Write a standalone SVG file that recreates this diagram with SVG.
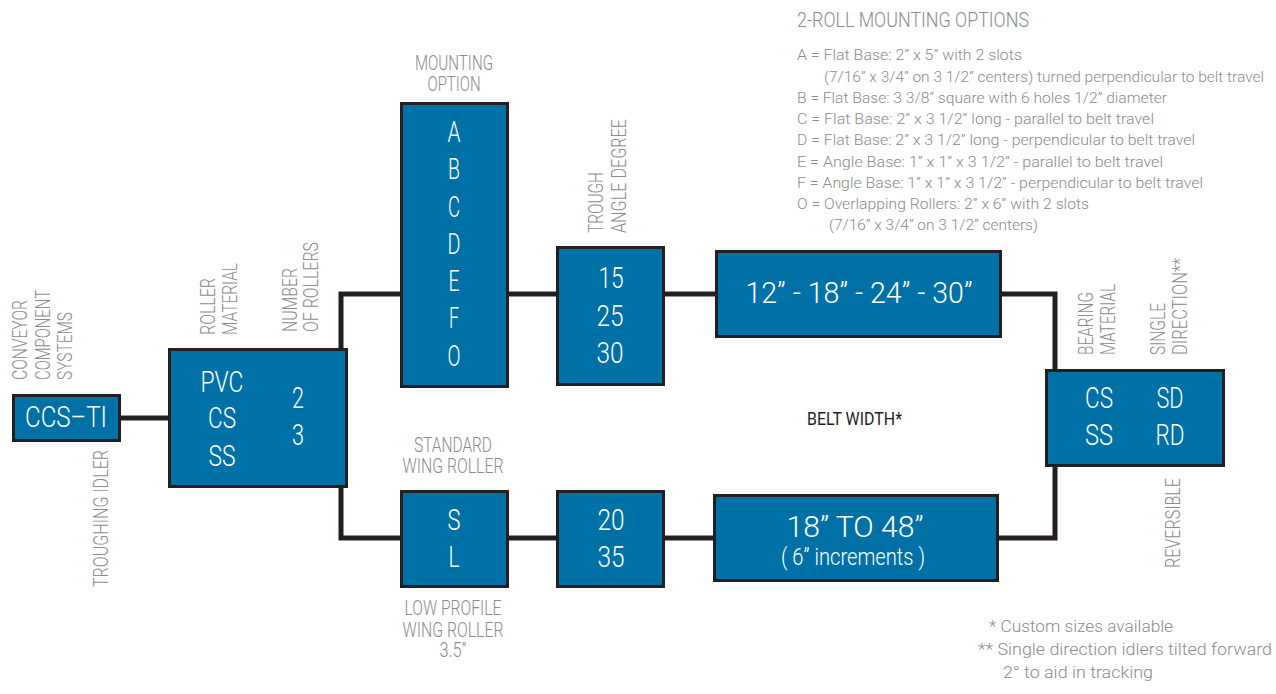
<svg xmlns="http://www.w3.org/2000/svg" width="1276" height="694" viewBox="0 0 1276 694">
<style>
text{font-family:"Liberation Sans Narrow","Roboto","Liberation Sans",sans-serif;font-weight:300}
.box{fill:#0071A7;stroke:#231F20;stroke-width:3}
.w{fill:#ffffff;font-size:30px;text-anchor:middle}
.g{fill:#8A8C8E;font-size:20px}
.gc{fill:#8A8C8E;font-size:20px;text-anchor:middle}
.opt{fill:#8A8C8E;font-size:15.5px}
.fn{fill:#8A8C8E;font-size:17px}
.dk{fill:#231F20;font-size:19px;font-weight:400}
.con{fill:none;stroke:#231F20;stroke-width:5;stroke-linejoin:miter}
</style>
<rect width="1276" height="694" fill="#ffffff"/>
<g id="connectors">
<path class="con" d="M121,418 H168"/>
<path class="con" d="M341,348 V294 H400"/>
<path class="con" d="M509,294 H556"/>
<path class="con" d="M665,294 H715"/>
<path class="con" d="M1002,294 H1055 V369"/>
<path class="con" d="M341,488 V538 H400"/>
<path class="con" d="M509,538 H556"/>
<path class="con" d="M665,538 H713"/>
<path class="con" d="M999,538 H1055 V467"/>
</g>
<g id="ccs">
<rect class="box" x="13.5" y="395.5" width="106" height="45"/>
<text class="w" x="66" y="427" textLength="82" lengthAdjust="spacingAndGlyphs">CCS–TI</text>
<text class="g" transform="translate(27,380) rotate(-90)" textLength="80" lengthAdjust="spacingAndGlyphs">CONVEYOR</text>
<text class="g" transform="translate(50,380) rotate(-90)" textLength="90" lengthAdjust="spacingAndGlyphs">COMPONENT</text>
<text class="g" transform="translate(72,380) rotate(-90)" textLength="68" lengthAdjust="spacingAndGlyphs">SYSTEMS</text>
<text class="g" transform="translate(108,587) rotate(-90)" textLength="137" lengthAdjust="spacingAndGlyphs">TROUGHING IDLER</text>
</g>
<g id="roller">
<rect class="box" x="169.5" y="349.5" width="177" height="137"/>
<text class="w" x="222" y="392" textLength="43" lengthAdjust="spacingAndGlyphs">PVC</text>
<text class="w" x="222" y="428" textLength="28" lengthAdjust="spacingAndGlyphs">CS</text>
<text class="w" x="222" y="466" textLength="27" lengthAdjust="spacingAndGlyphs">SS</text>
<text class="w" x="298" y="408" textLength="12" lengthAdjust="spacingAndGlyphs">2</text>
<text class="w" x="298" y="445" textLength="12" lengthAdjust="spacingAndGlyphs">3</text>
<text class="g" transform="translate(215,335) rotate(-90)" textLength="57" lengthAdjust="spacingAndGlyphs">ROLLER</text>
<text class="g" transform="translate(237,335) rotate(-90)" textLength="72" lengthAdjust="spacingAndGlyphs">MATERIAL</text>
<text class="g" transform="translate(297,332) rotate(-90)" textLength="64" lengthAdjust="spacingAndGlyphs">NUMBER</text>
<text class="g" transform="translate(318,332) rotate(-90)" textLength="90" lengthAdjust="spacingAndGlyphs">OF ROLLERS</text>
</g>
<g id="mounting">
<rect class="box" x="401.5" y="103.5" width="106" height="283"/>
<text class="w" x="454" y="142" textLength="13" lengthAdjust="spacingAndGlyphs">A</text>
<text class="w" x="454" y="179" textLength="12" lengthAdjust="spacingAndGlyphs">B</text>
<text class="w" x="454" y="217" textLength="12" lengthAdjust="spacingAndGlyphs">C</text>
<text class="w" x="454" y="254" textLength="13" lengthAdjust="spacingAndGlyphs">D</text>
<text class="w" x="454" y="291" textLength="11" lengthAdjust="spacingAndGlyphs">E</text>
<text class="w" x="454" y="328" textLength="10" lengthAdjust="spacingAndGlyphs">F</text>
<text class="w" x="454" y="366" textLength="13" lengthAdjust="spacingAndGlyphs">O</text>
<text class="gc" x="454" y="70" textLength="78" lengthAdjust="spacingAndGlyphs">MOUNTING</text>
<text class="gc" x="454" y="91" textLength="53" lengthAdjust="spacingAndGlyphs">OPTION</text>
</g>
<g id="trough">
<rect class="box" x="557.5" y="247.5" width="106" height="137"/>
<text class="w" x="611" y="288" textLength="25" lengthAdjust="spacingAndGlyphs">15</text>
<text class="w" x="610" y="326" textLength="27" lengthAdjust="spacingAndGlyphs">25</text>
<text class="w" x="610" y="363" textLength="27" lengthAdjust="spacingAndGlyphs">30</text>
<text class="g" transform="translate(603,233) rotate(-90)" textLength="61" lengthAdjust="spacingAndGlyphs">TROUGH</text>
<text class="g" transform="translate(626,233) rotate(-90)" textLength="114" lengthAdjust="spacingAndGlyphs">ANGLE DEGREE</text>
</g>
<g id="width-top">
<rect class="box" x="716.5" y="251.5" width="284" height="85"/>
<text class="w" x="859" y="303" textLength="227" lengthAdjust="spacingAndGlyphs">12” - 18” - 24” - 30”</text>
</g>
<g id="bearing">
<rect class="box" x="1046.5" y="370.5" width="177" height="95"/>
<text class="w" x="1099" y="408" textLength="28" lengthAdjust="spacingAndGlyphs">CS</text>
<text class="w" x="1099" y="445" textLength="28" lengthAdjust="spacingAndGlyphs">SS</text>
<text class="w" x="1170" y="408" textLength="27" lengthAdjust="spacingAndGlyphs">SD</text>
<text class="w" x="1170" y="445" textLength="29" lengthAdjust="spacingAndGlyphs">RD</text>
<text class="g" transform="translate(1093,355) rotate(-90)" textLength="63" lengthAdjust="spacingAndGlyphs">BEARING</text>
<text class="g" transform="translate(1115,355) rotate(-90)" textLength="71" lengthAdjust="spacingAndGlyphs">MATERIAL</text>
<text class="g" transform="translate(1165,355) rotate(-90)" textLength="52" lengthAdjust="spacingAndGlyphs">SINGLE</text>
<text class="g" transform="translate(1187,355) rotate(-90)" textLength="97" lengthAdjust="spacingAndGlyphs">DIRECTION**</text>
<text class="g" transform="translate(1180,568) rotate(-90)" textLength="90" lengthAdjust="spacingAndGlyphs">REVERSIBLE</text>
</g>
<g id="wing">
<rect class="box" x="401.5" y="491.5" width="106" height="95"/>
<text class="w" x="454" y="530" textLength="13" lengthAdjust="spacingAndGlyphs">S</text>
<text class="w" x="454" y="567" textLength="11" lengthAdjust="spacingAndGlyphs">L</text>
<text class="gc" x="453" y="452" textLength="78" lengthAdjust="spacingAndGlyphs">STANDARD</text>
<text class="gc" x="453" y="473" textLength="101" lengthAdjust="spacingAndGlyphs">WING ROLLER</text>
<text class="gc" x="453" y="615" textLength="97" lengthAdjust="spacingAndGlyphs">LOW PROFILE</text>
<text class="gc" x="453" y="637" textLength="101" lengthAdjust="spacingAndGlyphs">WING ROLLER</text>
<text class="gc" x="453" y="657" textLength="27" lengthAdjust="spacingAndGlyphs">3.5”</text>
</g>
<g id="angle-low">
<rect class="box" x="557.5" y="491.5" width="106" height="95"/>
<text class="w" x="611" y="530" textLength="27" lengthAdjust="spacingAndGlyphs">20</text>
<text class="w" x="611" y="567" textLength="27" lengthAdjust="spacingAndGlyphs">35</text>
</g>
<g id="width-low">
<rect class="box" x="714.5" y="495.5" width="283" height="85"/>
<text class="w" x="855" y="537" textLength="137" lengthAdjust="spacingAndGlyphs">18” TO  48”</text>
<text class="w" x="853" y="565" style="font-size:23px" textLength="144" lengthAdjust="spacingAndGlyphs">( 6” increments )</text>
</g>
<g id="belt-width-label">
<text class="dk" x="807" y="425" textLength="95" lengthAdjust="spacingAndGlyphs">BELT WIDTH*</text>
</g>
<g id="mounting-options">
<text class="g" x="797" y="27" style="font-size:21px" textLength="232" lengthAdjust="spacingAndGlyphs">2-ROLL MOUNTING OPTIONS</text>
<text class="opt" x="797" y="60" textLength="225" lengthAdjust="spacingAndGlyphs">A = Flat Base: 2” x 5” with 2 slots</text>
<text class="opt" x="824" y="81.5" textLength="440" lengthAdjust="spacingAndGlyphs">(7/16” x 3/4” on 3 1/2” centers) turned perpendicular to belt travel</text>
<text class="opt" x="797" y="102.5" textLength="370" lengthAdjust="spacingAndGlyphs">B = Flat Base: 3 3/8” square with 6 holes 1/2” diameter</text>
<text class="opt" x="797" y="124" textLength="357" lengthAdjust="spacingAndGlyphs">C = Flat Base: 2” x 3 1/2” long - parallel to belt travel</text>
<text class="opt" x="797" y="145" textLength="398" lengthAdjust="spacingAndGlyphs">D = Flat Base: 2” x 3 1/2” long - perpendicular to belt travel</text>
<text class="opt" x="797" y="166.5" textLength="366" lengthAdjust="spacingAndGlyphs">E = Angle Base: 1” x 1” x 3 1/2” - parallel to belt travel</text>
<text class="opt" x="797" y="188" textLength="406" lengthAdjust="spacingAndGlyphs">F = Angle Base: 1” x 1” x 3 1/2” - perpendicular to belt travel</text>
<text class="opt" x="797" y="209" textLength="292" lengthAdjust="spacingAndGlyphs">O = Overlapping Rollers: 2” x 6” with 2 slots</text>
<text class="opt" x="829" y="230" textLength="209" lengthAdjust="spacingAndGlyphs">(7/16” x 3/4” on 3 1/2” centers)</text>
</g>
<g id="footnotes">
<text class="fn" x="989" y="632" textLength="184" lengthAdjust="spacingAndGlyphs">* Custom sizes available</text>
<text class="fn" x="978" y="655" textLength="294" lengthAdjust="spacingAndGlyphs">** Single direction idlers tilted forward</text>
<text class="fn" x="1003" y="678" textLength="150" lengthAdjust="spacingAndGlyphs">2° to aid in tracking</text>
</g>
</svg>
